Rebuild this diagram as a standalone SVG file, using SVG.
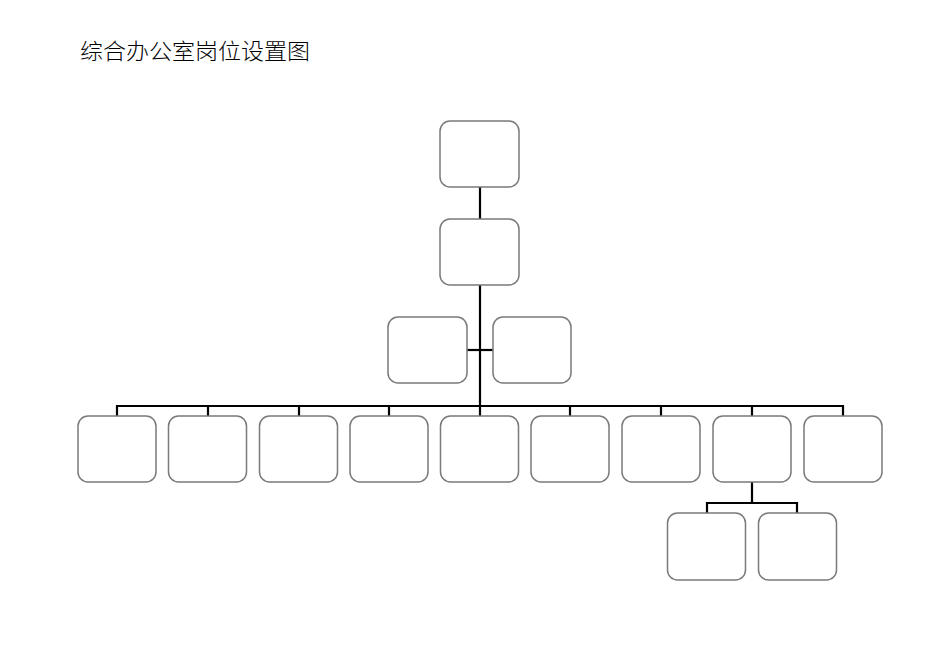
<svg xmlns="http://www.w3.org/2000/svg" width="950" height="672" viewBox="0 0 950 672">
<style>
.box{fill:#fff;stroke:#7a7a7a;stroke-width:1.5}
.con{fill:none;stroke:#000;stroke-width:2.2}
.title{font-family:"Noto Sans CJK SC","Noto Sans",sans-serif;font-size:22px;font-weight:300;fill:#000}
</style>
<rect width="950" height="672" fill="#fff"/>
<text class="title" x="80" y="59" textLength="230" lengthAdjust="spacingAndGlyphs">综合办公室岗位设置图</text>
<g id="connectors">
<path class="con" d="M480 187V406"/>
<path class="con" d="M467 350H493"/>
<path class="con" d="M117 416V406H843V416"/>
<path class="con" d="M208 406V416M299 406V416M389 406V416M480 406V416M570 406V416M661 406V416M752 406V416"/>
<path class="con" d="M752 482V503M707 513V503H797V513"/>
</g>
<g id="n-top"><rect class="box" x="440" y="121" width="79" height="66" rx="10"/></g>
<g id="n-second"><rect class="box" x="440" y="219" width="79" height="66" rx="10"/></g>
<g id="n-left-assist"><rect class="box" x="388" y="317" width="79" height="66" rx="10"/></g>
<g id="n-right-assist"><rect class="box" x="493" y="317" width="78" height="66" rx="10"/></g>
<g id="n-b1"><rect class="box" x="78" y="416" width="78" height="66" rx="10"/></g>
<g id="n-b2"><rect class="box" x="168.5" y="416" width="78" height="66" rx="10"/></g>
<g id="n-b3"><rect class="box" x="259.5" y="416" width="78" height="66" rx="10"/></g>
<g id="n-b4"><rect class="box" x="350" y="416" width="78" height="66" rx="10"/></g>
<g id="n-b5"><rect class="box" x="440.5" y="416" width="78" height="66" rx="10"/></g>
<g id="n-b6"><rect class="box" x="531" y="416" width="78" height="66" rx="10"/></g>
<g id="n-b7"><rect class="box" x="622" y="416" width="78" height="66" rx="10"/></g>
<g id="n-b8"><rect class="box" x="713" y="416" width="78" height="66" rx="10"/></g>
<g id="n-b9"><rect class="box" x="804" y="416" width="78" height="66" rx="10"/></g>
<g id="n-s1"><rect class="box" x="667.5" y="513" width="78" height="67" rx="10"/></g>
<g id="n-s2"><rect class="box" x="758.5" y="513" width="78" height="67" rx="10"/></g>
</svg>
